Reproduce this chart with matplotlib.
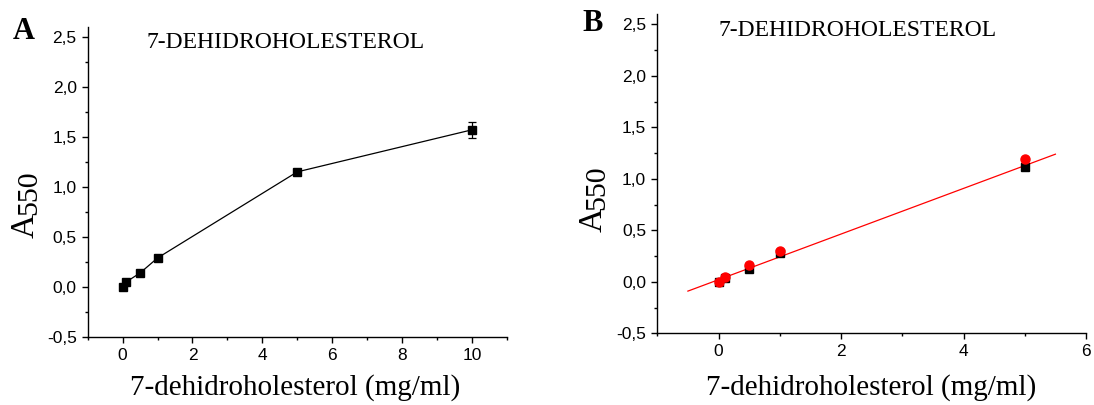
import matplotlib
matplotlib.use('Agg')
import matplotlib.pyplot as plt
from matplotlib.ticker import MultipleLocator, FuncFormatter

# absorbance of 7-dehydrocholesterol standards
conc_a = [0, 0.1, 0.5, 1, 5, 10]
abs_a = [0.0, 0.05, 0.14, 0.29, 1.15, 1.57]
err_a = [0, 0, 0, 0, 0, 0.078]

conc_b = [0, 0.1, 0.5, 1, 5]
abs_b_black = [0.0, 0.04, 0.12, 0.28, 1.12]
abs_b_red = [0.0, 0.05, 0.16, 0.30, 1.19]
# linear fit drawn over the standards
fit_x = [-0.5, 5.5]
fit_y = [-0.09, 1.24]

title = '7-DEHIDROHOLESTEROL'
xlab = '7-dehidroholesterol (mg/ml)'

comma = FuncFormatter(lambda v, p: ('%.1f' % v).replace('.', ','))
intfmt = FuncFormatter(lambda v, p: '%d' % round(v))

W, H = 1094, 405
fig = plt.figure(figsize=(W / 100, H / 100), dpi=100)
axA = fig.add_axes([0.0802, 0.1679, 0.383, 0.766])
axB = fig.add_axes([0.6008, 0.177, 0.3919, 0.788])

def style(ax, xmax, xstep):
    ax.spines['top'].set_visible(False)
    ax.spines['right'].set_visible(False)
    for s in ('left', 'bottom'):
        ax.spines[s].set_linewidth(1.0)
    ax.set_ylim(-0.5, 2.6)
    ax.set_xlim(-1, xmax)
    ax.yaxis.set_major_locator(MultipleLocator(0.5))
    ax.yaxis.set_minor_locator(MultipleLocator(0.25))
    ax.xaxis.set_major_locator(MultipleLocator(xstep))
    ax.xaxis.set_minor_locator(MultipleLocator(1))
    ax.yaxis.set_major_formatter(comma)
    ax.xaxis.set_major_formatter(intfmt)
    ax.tick_params(which='major', direction='out', length=4, width=1,
                   labelsize=12.5, pad=4)
    ax.tick_params(which='minor', direction='out', length=2.5, width=1)
    for lab in ax.get_xticklabels() + ax.get_yticklabels():
        lab.set_family('Liberation Sans')
    ax.set_xlabel(xlab, family='Liberation Serif', fontsize=21)
    ax.xaxis.label.set_va('center')

def a550(px, py):
    # "A" with a smaller, slightly lowered "550", written bottom to top
    fig.text(px / W, 1 - py / H, 'A', rotation=90, rotation_mode='anchor',
             ha='left', va='baseline', family='Liberation Serif', fontsize=24)
    fig.text((px + 2.5) / W, 1 - (py - 23) / H, '550', rotation=90,
             rotation_mode='anchor', ha='left', va='baseline',
             family='Liberation Serif', fontsize=21.5)

style(axA, 11, 2)
axA.errorbar(conc_a, abs_a, yerr=err_a, color='black', marker='s', ms=6,
             lw=0.9, capsize=3, elinewidth=0.9, capthick=0.9)
axA.text(0.471, 0.948, title, transform=axA.transAxes, ha='center', va='center',
         family='Liberation Serif', fontsize=17)
axA.xaxis.set_label_coords(0.495, -0.164)
a550(33.3, 238)

style(axB, 6, 2)
axB.plot(fit_x, fit_y, color='red', lw=0.9)
axB.plot(conc_b, abs_b_black, 's', color='black', ms=6)
axB.plot(conc_b, abs_b_red, 'o', color='red', ms=6.5)
axB.text(0.467, 0.950, title, transform=axB.transAxes, ha='center', va='center',
         family='Liberation Serif', fontsize=17)
axB.xaxis.set_label_coords(0.498, -0.171)
a550(601.7, 232.5)

fig.text(0.022, 0.921, 'A', ha='center', va='center', family='Liberation Serif',
         fontweight='bold', fontsize=22)
fig.text(0.542, 0.941, 'B', ha='center', va='center', family='Liberation Serif',
         fontweight='bold', fontsize=22)

fig.savefig('out.png', dpi=100)
